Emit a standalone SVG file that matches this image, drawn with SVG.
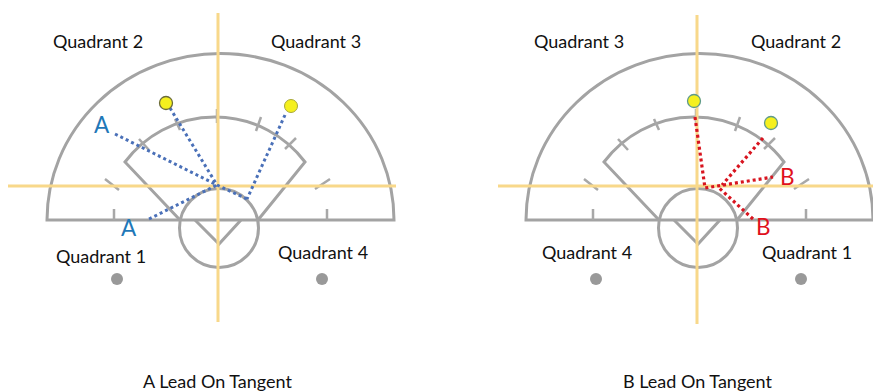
<svg xmlns="http://www.w3.org/2000/svg" width="873" height="391" viewBox="0 0 873 391">
<style>
text{font-family:Lato,"Liberation Sans",sans-serif;font-size:18px;fill:#111}
.big{font-size:22.5px}
.a{fill:#1f78b8}.b{fill:#e0101c}
.f{fill:none;stroke:#a3a3a3;stroke-width:3}
.t{fill:none;stroke:#a8a8a8;stroke-width:2.5}
.y{stroke:#f8d88a;stroke-width:3;fill:none}
.dg{fill:#999}
.bl{fill:none;stroke:#4a70b8;stroke-width:3;stroke-dasharray:3 3}
.rd{fill:none;stroke:#d8141f;stroke-width:3.2;stroke-dasharray:3 3}
</style>
<defs>
<g id="field">
<path class="f" d="M47 220A173 166 0 0 1 394 220Z"/>
<path class="f" d="M180 220L125 162A112.5 112.5 0 0 1 305 162L258 220"/>
<circle class="f" cx="219" cy="228" r="39.5"/>
<path class="f" d="M195 220L219 244L241 220"/>
<path class="t" d="M105 179L119 190M114 209V220M327 209V220M315 189L330 179M139 139L149 150M175 119L180 130M217 109V123M261 117L256 131M296 138L285 149"/>
<circle class="dg" cx="117" cy="279" r="6"/>
<circle class="dg" cx="322" cy="279" r="6"/>
</g>
</defs>
<g id="panel-a">
<use href="#field"/>
<path class="y" d="M218 13V322M8 186H396"/>
<g id="connectors-a">
<path class="bl" d="M115 134L217 185L247 199M170 108L217 185M285 115L247 199M149 219L217 185"/>
</g>
<g id="runners-a">
<circle cx="166" cy="103" r="6.5" fill="#f5f01e" stroke="#6b6b3a" stroke-width="1.3"/>
<circle cx="291" cy="106" r="6.5" fill="#f5f01e" stroke="#a8a83a" stroke-width="1"/>
</g>
<text class="big a" x="94" y="133">A</text>
<text class="big a" x="121" y="236">A</text>
<text x="53" y="48">Quadrant 2</text>
<text x="271" y="48">Quadrant 3</text>
<text x="56" y="263">Quadrant 1</text>
<text x="278" y="259">Quadrant 4</text>
<text x="143" y="388">A Lead On Tangent</text>
</g>
<g id="panel-b">
<use href="#field" x="479"/>
<path class="y" d="M697 15V324M498 186H873"/>
<g id="connectors-b">
<path class="rd" d="M695 117L705 188L773 177M763 138L722 185M753 219L718 187"/>
</g>
<g id="runners-b">
<circle cx="694" cy="101" r="6.5" fill="#f5f01e" stroke="#5f9a8a" stroke-width="1.3"/>
<circle cx="771" cy="123" r="6.5" fill="#f5f01e" stroke="#5f9a8a" stroke-width="1.3"/>
</g>
<text class="big b" x="780" y="185">B</text>
<text class="big b" x="756" y="235">B</text>
<text x="534" y="48">Quadrant 3</text>
<text x="751" y="48">Quadrant 2</text>
<text x="542" y="259">Quadrant 4</text>
<text x="762" y="259">Quadrant 1</text>
<text x="623" y="388">B Lead On Tangent</text>
</g>
</svg>
